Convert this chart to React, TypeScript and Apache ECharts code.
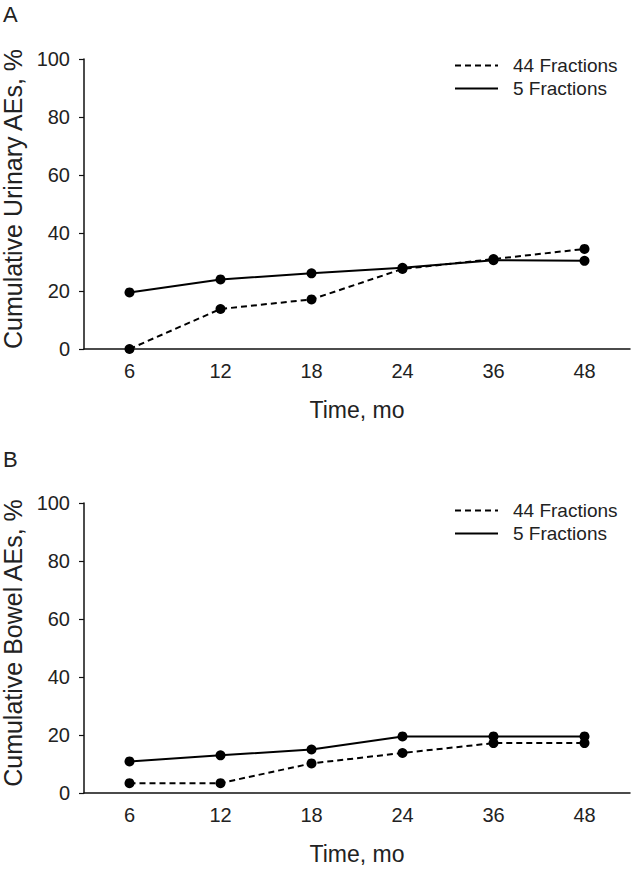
import React, { useEffect, useRef } from "react";
import * as echarts from "echarts";

const timeLabels = ["6", "12", "18", "24", "36", "48"];
const urinary44 = [0, 13.8, 17.1, 27.6, 31.0, 34.5];
const urinary5 = [19.5, 24.0, 26.1, 28.0, 30.6, 30.4];
const bowel44 = [3.4, 3.4, 10.2, 13.8, 17.2, 17.2];
const bowel5 = [10.9, 13.0, 15.0, 19.5, 19.5, 19.5];
const yTicks = [0, 20, 40, 60, 80, 100];
const seriesNames = ["44 Fractions", "5 Fractions"];

const FONT = "'Liberation Sans', Arial, Helvetica, sans-serif";
const TXT = "#222";

export default function App() {
  const ref = useRef<HTMLDivElement>(null);
  useEffect(() => {
    document.body.style.margin = "0";
    const chart = echarts.init(ref.current!, null, { renderer: "svg" });
    const grids = [
      { left: 84, top: 59, width: 546, height: 290, outerBoundsMode: "none", containLabel: false },
      { left: 84, top: 503, width: 546, height: 290, outerBoundsMode: "none", containLabel: false },
    ];
    const yNames = ["Cumulative Urinary AEs, %", "Cumulative Bowel AEs, %"];
    const xAxis = grids.map((_, i) => ({
      type: "category",
      gridIndex: i,
      data: timeLabels,
      boundaryGap: true,
      axisLine: { lineStyle: { color: "#111", width: 1.5 } },
      axisTick: { show: false },
      axisLabel: { color: TXT, fontSize: 20, fontFamily: FONT, margin: 12 },
      name: "Time, mo",
      nameLocation: "middle",
      nameGap: 49,
      nameTextStyle: { color: TXT, fontSize: 23, fontFamily: FONT },
    }));
    const yAxis = grids.map((_, i) => ({
      type: "value",
      gridIndex: i,
      min: yTicks[0],
      max: yTicks[yTicks.length - 1],
      interval: 20,
      splitLine: { show: false },
      axisLine: { show: true, lineStyle: { color: "#111", width: 1.5 } },
      axisTick: { show: true, length: 5, lineStyle: { color: "#111", width: 1.2 } },
      axisLabel: { color: TXT, fontSize: 20, fontFamily: FONT, margin: 14 },
      name: yNames[i],
      nameLocation: "middle",
      nameGap: 52,
      nameTextStyle: { color: TXT, fontSize: 25, fontFamily: FONT, padding: [0, 0, 0, 10] },
    }));
    const mk = (name: string, data: number[], idx: number, dashed: boolean) => ({
      type: "line",
      name,
      data,
      xAxisIndex: idx,
      yAxisIndex: idx,
      symbol: "circle",
      symbolSize: 10,
      itemStyle: { color: "#000" },
      lineStyle: { color: "#000", width: 2, type: dashed ? [6, 4] : "solid" },
      z: dashed ? 3 : 2,
    });
    const legendBase = {
      orient: "vertical",
      left: 454,
      padding: 0,
      itemWidth: 43,
      itemHeight: 14,
      itemGap: 4,
      itemStyle: { opacity: 0 },
      textStyle: { color: TXT, fontSize: 19, fontFamily: FONT, padding: [0, 0, 0, 10] },
      data: seriesNames,
    };
    chart.setOption({
      animation: false,
      backgroundColor: "#fff",
      grid: grids,
      xAxis,
      yAxis,
      legend: [
        { ...legendBase, top: 56 },
        { ...legendBase, top: 501 },
      ],
      graphic: [
        { type: "text", left: 3, top: 3, style: { text: "A", fontSize: 22, fontFamily: FONT, fill: TXT } },
        { type: "text", left: 3, top: 448, style: { text: "B", fontSize: 22, fontFamily: FONT, fill: TXT } },
      ],
      series: [
        mk(seriesNames[0], urinary44, 0, true),
        mk(seriesNames[1], urinary5, 0, false),
        mk(seriesNames[0], bowel44, 1, true),
        mk(seriesNames[1], bowel5, 1, false),
      ],
    });
    return () => chart.dispose();
  }, []);
  return <div ref={ref} style={{ width: 633, height: 873 }} />;
}
